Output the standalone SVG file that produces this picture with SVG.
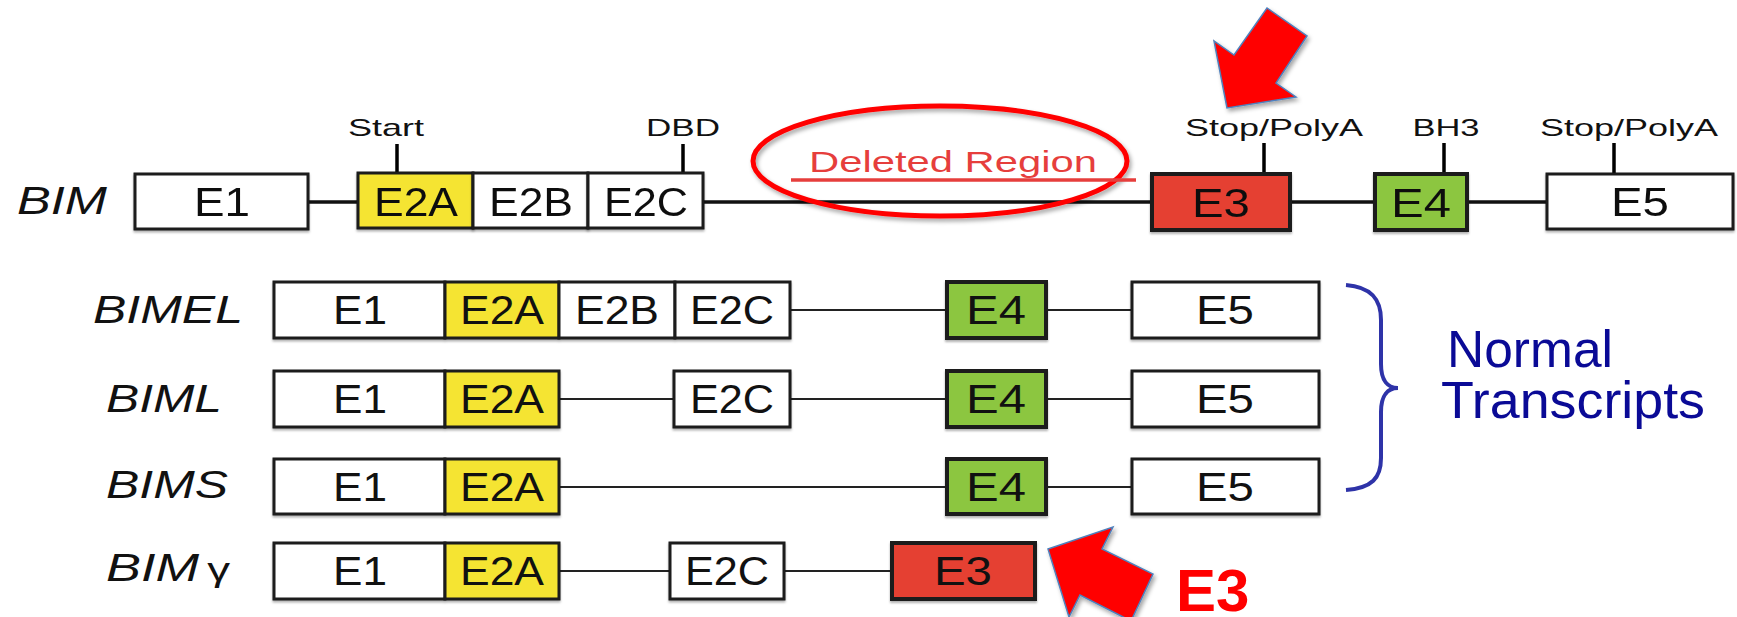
<svg xmlns="http://www.w3.org/2000/svg" width="1737" height="617" viewBox="0 0 1737 617">
<defs>
<style>
.bx{stroke:#1a1a1a;stroke-width:3}
.w{fill:#fff}.y{fill:#f5e430}.r{fill:#e53f31}.g{fill:#8cc63f}
.thk{stroke-width:4}
.ex{font-family:"Liberation Sans",Arial,sans-serif;font-size:40px;text-anchor:middle;fill:#111}
.lab{font-family:"Liberation Sans",Arial,sans-serif;font-size:39px;font-style:italic;fill:#111}
.top{font-family:"Liberation Sans",Arial,sans-serif;font-size:24px;text-anchor:middle;fill:#111}
.tick{stroke:#000;stroke-width:3.5}
.ln{stroke:#111;stroke-width:3.5}
.tl{stroke:#222;stroke-width:2}
.arrow{fill:#ff0000;stroke:#4f81bd;stroke-width:1.5}
</style>
<filter id="sh" x="-20%" y="-20%" width="140%" height="140%">
<feDropShadow dx="2" dy="3" stdDeviation="2" flood-color="#000" flood-opacity="0.35"/>
</filter>
<filter id="bs" x="-5%" y="-10%" width="110%" height="130%">
<feDropShadow dx="0" dy="2" stdDeviation="1" flood-color="#000" flood-opacity="0.3"/>
</filter>
</defs>
<rect width="1737" height="617" fill="#fff"/>

<g id="connectors">
<line class="ln" x1="308" y1="202" x2="358" y2="202"/>
<line class="ln" x1="703" y1="202" x2="1152" y2="202"/>
<line class="ln" x1="1290" y1="202" x2="1375" y2="202"/>
<line class="ln" x1="1467" y1="202" x2="1547" y2="202"/>
<line class="tl" x1="790" y1="310" x2="947" y2="310"/>
<line class="tl" x1="1046" y1="310" x2="1132" y2="310"/>
<line class="tl" x1="559" y1="399" x2="674" y2="399"/>
<line class="tl" x1="790" y1="399" x2="947" y2="399"/>
<line class="tl" x1="1046" y1="399" x2="1132" y2="399"/>
<line class="tl" x1="559" y1="487" x2="947" y2="487"/>
<line class="tl" x1="1046" y1="487" x2="1132" y2="487"/>
<line class="tl" x1="559" y1="571" x2="670" y2="571"/>
<line class="tl" x1="784" y1="571" x2="892" y2="571"/>
<line class="tick" x1="397" y1="144" x2="397" y2="173"/>
<line class="tick" x1="683" y1="144" x2="683" y2="173"/>
<line class="tick" x1="1264" y1="143" x2="1264" y2="174"/>
<line class="tick" x1="1444" y1="143" x2="1444" y2="174"/>
<line class="tick" x1="1614" y1="143" x2="1614" y2="174"/>
</g>

<g id="bim-label"><text class="lab" x="17" y="214" textLength="90" lengthAdjust="spacingAndGlyphs">BIM</text></g>
<g id="top-labels">
<text class="top" x="386" y="136" textLength="76" lengthAdjust="spacingAndGlyphs">Start</text>
<text class="top" x="683" y="136" textLength="74" lengthAdjust="spacingAndGlyphs">DBD</text>
<text class="top" x="1274" y="136" textLength="178" lengthAdjust="spacingAndGlyphs">Stop/PolyA</text>
<text class="top" x="1446" y="136" textLength="67" lengthAdjust="spacingAndGlyphs">BH3</text>
<text class="top" x="1629" y="136" textLength="178" lengthAdjust="spacingAndGlyphs">Stop/PolyA</text>
</g>

<g id="bim-E1" filter="url(#bs)"><rect class="bx w" x="135" y="174" width="173" height="55"/><text class="ex" x="222" y="216" textLength="56" lengthAdjust="spacingAndGlyphs">E1</text></g>
<g id="bim-E2A" filter="url(#bs)"><rect class="bx y" x="358" y="173" width="115" height="55"/><text class="ex" x="416" y="216" textLength="84" lengthAdjust="spacingAndGlyphs">E2A</text></g>
<g id="bim-E2B" filter="url(#bs)"><rect class="bx w" x="473" y="173" width="115" height="55"/><text class="ex" x="531" y="216" textLength="84" lengthAdjust="spacingAndGlyphs">E2B</text></g>
<g id="bim-E2C" filter="url(#bs)"><rect class="bx w" x="588" y="173" width="115" height="55"/><text class="ex" x="646" y="216" textLength="84" lengthAdjust="spacingAndGlyphs">E2C</text></g>
<g id="bim-E3" filter="url(#bs)"><rect class="bx r thk" x="1152" y="174" width="138" height="56"/><text class="ex" x="1221" y="217" textLength="58" lengthAdjust="spacingAndGlyphs">E3</text></g>
<g id="bim-E4" filter="url(#bs)"><rect class="bx g thk" x="1375" y="174" width="92" height="56"/><text class="ex" x="1421" y="217" textLength="60" lengthAdjust="spacingAndGlyphs">E4</text></g>
<g id="bim-E5" filter="url(#bs)"><rect class="bx w" x="1547" y="174" width="186" height="55"/><text class="ex" x="1640" y="216" textLength="58" lengthAdjust="spacingAndGlyphs">E5</text></g>

<g id="deleted-region">
<ellipse cx="940" cy="161" rx="187" ry="55" fill="none" stroke="#ff0000" stroke-width="5" filter="url(#sh)"/>
<text x="809" y="172" font-family="Liberation Sans, Arial, sans-serif" font-size="30" fill="#e63e3c" textLength="288" lengthAdjust="spacingAndGlyphs">Deleted Region</text>
<line x1="791" y1="180" x2="1136" y2="180" stroke="#e63e3c" stroke-width="3.5"/>
</g>

<g id="bimel">
<text class="lab" x="93" y="323" textLength="150" lengthAdjust="spacingAndGlyphs">BIMEL</text>
<g filter="url(#bs)">
<rect class="bx w" x="274" y="282" width="171" height="56"/>
<rect class="bx y" x="445" y="282" width="114" height="56"/>
<rect class="bx w" x="559" y="282" width="116" height="56"/>
<rect class="bx w" x="675" y="282" width="115" height="56"/>
<rect class="bx g thk" x="947" y="282" width="99" height="56"/>
<rect class="bx w" x="1132" y="282" width="187" height="56"/>
</g>
<text class="ex" x="360" y="324" textLength="54" lengthAdjust="spacingAndGlyphs">E1</text>
<text class="ex" x="502" y="324" textLength="84" lengthAdjust="spacingAndGlyphs">E2A</text>
<text class="ex" x="617" y="324" textLength="84" lengthAdjust="spacingAndGlyphs">E2B</text>
<text class="ex" x="732" y="324" textLength="84" lengthAdjust="spacingAndGlyphs">E2C</text>
<text class="ex" x="996" y="324" textLength="60" lengthAdjust="spacingAndGlyphs">E4</text>
<text class="ex" x="1225" y="324" textLength="58" lengthAdjust="spacingAndGlyphs">E5</text>
</g>

<g id="biml">
<text class="lab" x="106" y="412" textLength="116" lengthAdjust="spacingAndGlyphs">BIML</text>
<g filter="url(#bs)">
<rect class="bx w" x="274" y="371" width="171" height="56"/>
<rect class="bx y" x="445" y="371" width="114" height="56"/>
<rect class="bx w" x="674" y="371" width="116" height="56"/>
<rect class="bx g thk" x="947" y="371" width="99" height="56"/>
<rect class="bx w" x="1132" y="371" width="187" height="56"/>
</g>
<text class="ex" x="360" y="413" textLength="54" lengthAdjust="spacingAndGlyphs">E1</text>
<text class="ex" x="502" y="413" textLength="84" lengthAdjust="spacingAndGlyphs">E2A</text>
<text class="ex" x="732" y="413" textLength="84" lengthAdjust="spacingAndGlyphs">E2C</text>
<text class="ex" x="996" y="413" textLength="60" lengthAdjust="spacingAndGlyphs">E4</text>
<text class="ex" x="1225" y="413" textLength="58" lengthAdjust="spacingAndGlyphs">E5</text>
</g>

<g id="bims">
<text class="lab" x="106" y="498" textLength="122" lengthAdjust="spacingAndGlyphs">BIMS</text>
<g filter="url(#bs)">
<rect class="bx w" x="274" y="459" width="171" height="55"/>
<rect class="bx y" x="445" y="459" width="114" height="55"/>
<rect class="bx g thk" x="947" y="459" width="99" height="55"/>
<rect class="bx w" x="1132" y="459" width="187" height="55"/>
</g>
<text class="ex" x="360" y="501" textLength="54" lengthAdjust="spacingAndGlyphs">E1</text>
<text class="ex" x="502" y="501" textLength="84" lengthAdjust="spacingAndGlyphs">E2A</text>
<text class="ex" x="996" y="501" textLength="60" lengthAdjust="spacingAndGlyphs">E4</text>
<text class="ex" x="1225" y="501" textLength="58" lengthAdjust="spacingAndGlyphs">E5</text>
</g>

<g id="bimgamma">
<text class="lab" x="106" y="581" textLength="124" lengthAdjust="spacingAndGlyphs">BIM<tspan font-style="normal" font-size="34" dx="6">γ</tspan></text>
<g filter="url(#bs)">
<rect class="bx w" x="274" y="543" width="171" height="56"/>
<rect class="bx y" x="445" y="543" width="114" height="56"/>
<rect class="bx w" x="670" y="543" width="114" height="56"/>
<rect class="bx r thk" x="892" y="543" width="143" height="56"/>
</g>
<text class="ex" x="360" y="585" textLength="54" lengthAdjust="spacingAndGlyphs">E1</text>
<text class="ex" x="502" y="585" textLength="84" lengthAdjust="spacingAndGlyphs">E2A</text>
<text class="ex" x="727" y="585" textLength="84" lengthAdjust="spacingAndGlyphs">E2C</text>
<text class="ex" x="963" y="585" textLength="58" lengthAdjust="spacingAndGlyphs">E3</text>
</g>

<g id="normal-transcripts">
<path d="M1346,285 C1372,287 1381,300 1381,320 L1381,364 C1381,381 1388,388 1398,388 C1388,388 1381,395 1381,412 L1381,458 C1381,478 1372,488 1346,490" fill="none" stroke="#2e33a8" stroke-width="4"/>
<text x="1447" y="367" font-family="Liberation Sans, Arial, sans-serif" font-size="52" fill="#0a0a96" textLength="166" lengthAdjust="spacingAndGlyphs">Normal</text>
<text x="1441" y="418" font-family="Liberation Sans, Arial, sans-serif" font-size="52" fill="#0a0a96" textLength="264" lengthAdjust="spacingAndGlyphs">Transcripts</text>
</g>

<g id="arrow-top"><polygon class="arrow" filter="url(#sh)" points="1227,108 1214,41 1234,55 1267,8 1307,36 1276,83 1296,97"/></g>
<g id="arrow-bottom"><polygon class="arrow" filter="url(#sh)" points="1048,549 1113,527 1102,549 1153,574 1131,621 1080,595 1069,617"/></g>
<g id="e3-label"><text x="1176" y="611" font-family="Liberation Sans, Arial, sans-serif" font-size="60" font-weight="bold" fill="#ff0000">E3</text></g>
</svg>
